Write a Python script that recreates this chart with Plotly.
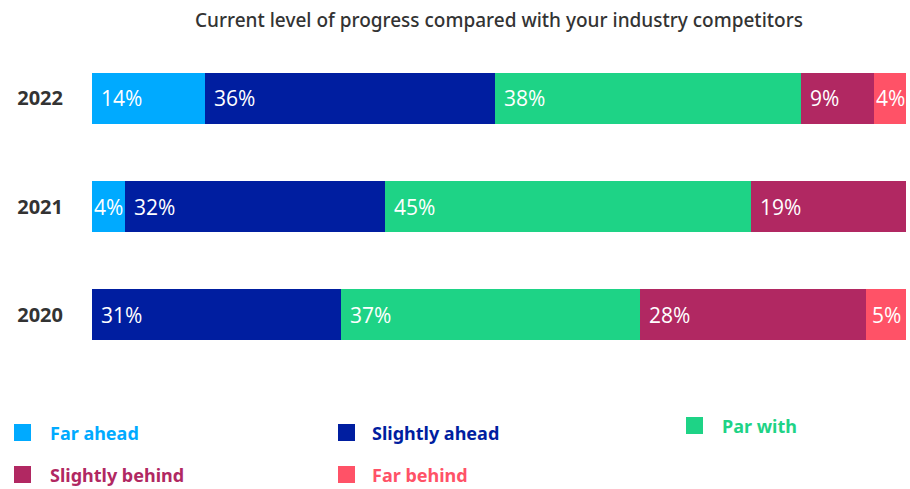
import plotly.graph_objects as go

years = ["2020", "2021", "2022"]
series_names = ["Far ahead", "Slightly ahead", "Par with", "Slightly behind", "Far behind"]
far_ahead = [0.0, 4.05, 13.9]
slightly_ahead = [30.6, 31.9, 35.6]
par_with = [36.7, 45.0, 37.6]
slightly_behind = [27.8, 19.0, 9.0]
far_behind = [4.9, 0.0, 3.9]
colors = ["#00AAFF", "#001EA0", "#1ED386", "#B12862", "#FF5267"]
title_text = "Current level of progress compared with your industry competitors"

series_values = [far_ahead, slightly_ahead, par_with, slightly_behind, far_behind]

W, H = 910, 489
ML, MR, MT, MB = 92, 4, 44, 120
PW, PH = W - ML - MR, H - MT - MB


def px_x(x):
    return (x - ML) / PW


def px_y(y):
    return (H - MB - y) / PH


fig = go.Figure()
for name, vals, col in zip(series_names, series_values, colors):
    fig.add_trace(go.Bar(
        y=years, x=vals, name=name, orientation="h",
        marker=dict(color=col, line=dict(width=0)),
        showlegend=False, hoverinfo="x+name",
    ))

annotations = []
for i, yr in enumerate(years):
    start = 0.0
    for vals in series_values:
        v = vals[i]
        if v > 0:
            label = f"{round(v)}%"
            if v < 6:
                annotations.append(dict(x=start + v / 2, y=i, xref="x", yref="y",
                                        text=label, showarrow=False, xanchor="center",
                                        font=dict(family="Open Sans", size=21, color="white")))
            else:
                annotations.append(dict(x=start, y=i, xref="x", yref="y",
                                        text=label, showarrow=False, xanchor="left", xshift=7,
                                        font=dict(family="Open Sans", size=21, color="white")))
        start += v

# legend (custom layout)
legend_pos = [(14, 424, 51), (338, 424, 373), (686, 417, 723), (14, 466, 51), (338, 466, 373)]
shapes = []
sq = 17
for (sx, sy, tx), name, col in zip(legend_pos, series_names, colors):
    shapes.append(dict(type="rect", xref="paper", yref="paper",
                       x0=px_x(sx), x1=px_x(sx + sq), y0=px_y(sy + sq), y1=px_y(sy),
                       fillcolor=col, line=dict(width=0)))
    annotations.append(dict(x=px_x(tx), y=px_y(sy + sq / 2), xref="paper", yref="paper",
                            text=f"<b>{name}</b>", showarrow=False, xanchor="left", yanchor="middle",
                            xshift=-3,
                            font=dict(family="Noto Sans", size=18, color=col)))

fig.update_layout(
    barmode="stack",
    width=W, height=H,
    margin=dict(l=ML, r=MR, t=MT, b=MB, pad=0),
    paper_bgcolor="white", plot_bgcolor="white",
    title=dict(text=title_text, x=0.5, xref="paper", xanchor="center",
               y=1 - 20 / H, yref="container", yanchor="middle",
               font=dict(family="Noto Sans", size=19, color="#333333", weight=500)),
    bargap=0.53,
    xaxis=dict(range=[0, 100], visible=False, fixedrange=True),
    yaxis=dict(type="category", categoryorder="array", categoryarray=years, range=[-0.5, 2.5],
               showgrid=False, zeroline=False, showline=False, ticks="",
               ticklabelstandoff=28,
               tickfont=dict(family="Open Sans", size=20, color="#333333", weight="bold")),
    annotations=annotations,
    shapes=shapes,
    showlegend=False,
)

fig.write_html("out.html")
